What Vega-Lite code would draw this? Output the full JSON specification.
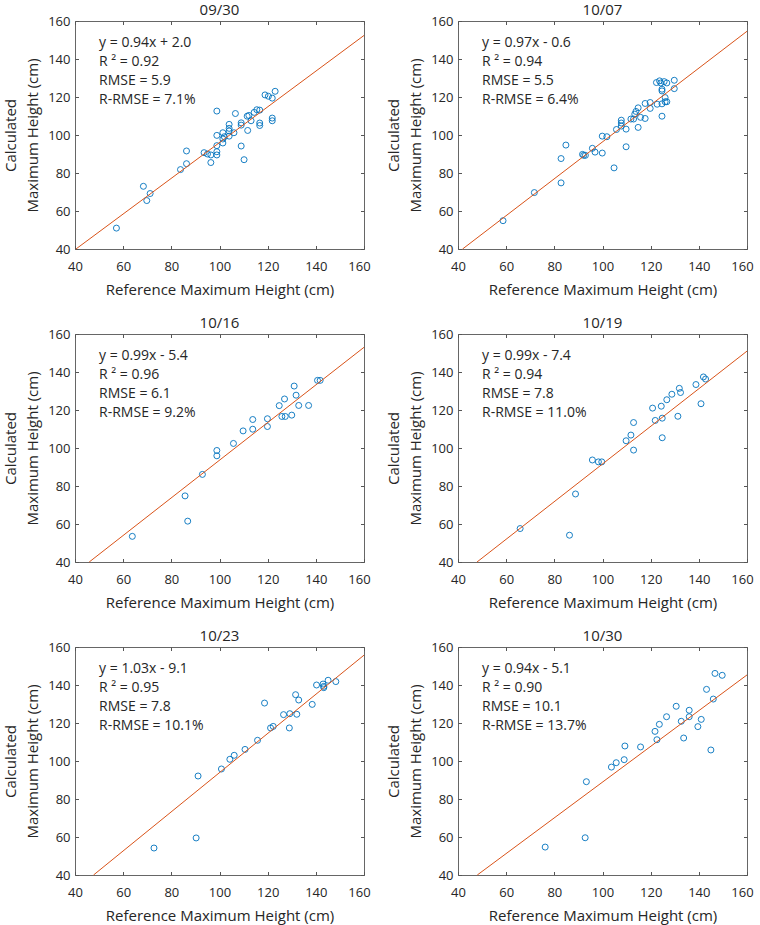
{
  "$schema": "https://vega.github.io/schema/vega-lite/v6.json",
  "background": "white",
  "padding": {"left": 3, "top": 2, "right": 5, "bottom": 5},
  "data": {"values": [
    {"d":"09/30","k":"p","x":57.2,"y":51.0},{"d":"09/30","k":"p","x":68.4,"y":73.0},{"d":"09/30","k":"p","x":69.8,"y":65.5},{"d":"09/30","k":"p","x":71.2,"y":69.2},{"d":"09/30","k":"p","x":83.8,"y":81.8},{"d":"09/30","k":"p","x":86.3,"y":84.9},{"d":"09/30","k":"p","x":86.3,"y":91.6},{"d":"09/30","k":"p","x":93.6,"y":90.7},{"d":"09/30","k":"p","x":95.0,"y":90.0},{"d":"09/30","k":"p","x":96.4,"y":85.5},{"d":"09/30","k":"p","x":96.4,"y":89.5},{"d":"09/30","k":"p","x":98.9,"y":89.5},{"d":"09/30","k":"p","x":98.9,"y":91.2},{"d":"09/30","k":"p","x":98.9,"y":94.4},{"d":"09/30","k":"p","x":98.9,"y":99.8},{"d":"09/30","k":"p","x":98.9,"y":112.6},{"d":"09/30","k":"p","x":101.4,"y":101.2},{"d":"09/30","k":"p","x":101.4,"y":97.9},{"d":"09/30","k":"p","x":101.4,"y":95.8},{"d":"09/30","k":"p","x":102.0,"y":99.1},{"d":"09/30","k":"p","x":104.0,"y":99.4},{"d":"09/30","k":"p","x":104.0,"y":105.6},{"d":"09/30","k":"p","x":104.0,"y":103.5},{"d":"09/30","k":"p","x":104.0,"y":102.1},{"d":"09/30","k":"p","x":106.0,"y":101.2},{"d":"09/30","k":"p","x":106.6,"y":111.3},{"d":"09/30","k":"p","x":109.0,"y":94.2},{"d":"09/30","k":"p","x":109.0,"y":106.4},{"d":"09/30","k":"p","x":109.0,"y":105.2},{"d":"09/30","k":"p","x":110.2,"y":87.0},{"d":"09/30","k":"p","x":111.5,"y":109.9},{"d":"09/30","k":"p","x":112.2,"y":110.3},{"d":"09/30","k":"p","x":111.7,"y":102.4},{"d":"09/30","k":"p","x":113.1,"y":107.5},{"d":"09/30","k":"p","x":114.4,"y":111.9},{"d":"09/30","k":"p","x":115.5,"y":113.3},{"d":"09/30","k":"p","x":116.7,"y":113.1},{"d":"09/30","k":"p","x":116.7,"y":106.3},{"d":"09/30","k":"p","x":116.7,"y":105.0},{"d":"09/30","k":"p","x":118.9,"y":121.1},{"d":"09/30","k":"p","x":120.3,"y":120.4},{"d":"09/30","k":"p","x":121.9,"y":119.4},{"d":"09/30","k":"p","x":121.9,"y":108.9},{"d":"09/30","k":"p","x":121.9,"y":107.5},{"d":"09/30","k":"p","x":123.1,"y":123.0},
    {"d":"09/30","k":"f","x":40.4,"y":40},{"d":"09/30","k":"f","x":160,"y":152.4},
    {"d":"09/30","k":"t","t":"y = 0.94x + 2.0\nR ² = 0.92\nRMSE = 5.9\nR-RMSE = 7.1%"},

    {"d":"10/07","k":"p","x":58.7,"y":54.9},{"d":"10/07","k":"p","x":71.7,"y":69.7},{"d":"10/07","k":"p","x":82.8,"y":87.6},{"d":"10/07","k":"p","x":82.8,"y":74.8},{"d":"10/07","k":"p","x":84.8,"y":94.7},{"d":"10/07","k":"p","x":91.7,"y":89.8},{"d":"10/07","k":"p","x":92.2,"y":89.3},{"d":"10/07","k":"p","x":92.9,"y":89.3},{"d":"10/07","k":"p","x":95.8,"y":93.0},{"d":"10/07","k":"p","x":96.9,"y":91.0},{"d":"10/07","k":"p","x":99.9,"y":99.4},{"d":"10/07","k":"p","x":99.9,"y":90.5},{"d":"10/07","k":"p","x":101.8,"y":99.1},{"d":"10/07","k":"p","x":104.8,"y":82.7},{"d":"10/07","k":"p","x":105.8,"y":102.9},{"d":"10/07","k":"p","x":107.8,"y":107.8},{"d":"10/07","k":"p","x":107.8,"y":106.3},{"d":"10/07","k":"p","x":107.8,"y":104.7},{"d":"10/07","k":"p","x":109.8,"y":103.1},{"d":"10/07","k":"p","x":109.8,"y":93.8},{"d":"10/07","k":"p","x":111.8,"y":108.4},{"d":"10/07","k":"p","x":112.9,"y":108.4},{"d":"10/07","k":"p","x":113.4,"y":111.0},{"d":"10/07","k":"p","x":113.9,"y":112.4},{"d":"10/07","k":"p","x":114.8,"y":114.3},{"d":"10/07","k":"p","x":114.8,"y":104.0},{"d":"10/07","k":"p","x":115.8,"y":109.3},{"d":"10/07","k":"p","x":117.7,"y":108.7},{"d":"10/07","k":"p","x":117.7,"y":116.6},{"d":"10/07","k":"p","x":119.8,"y":114.0},{"d":"10/07","k":"p","x":119.8,"y":117.1},{"d":"10/07","k":"p","x":122.4,"y":127.6},{"d":"10/07","k":"p","x":122.7,"y":116.2},{"d":"10/07","k":"p","x":123.7,"y":128.5},{"d":"10/07","k":"p","x":124.2,"y":127.4},{"d":"10/07","k":"p","x":124.7,"y":124.1},{"d":"10/07","k":"p","x":124.7,"y":123.2},{"d":"10/07","k":"p","x":124.7,"y":116.4},{"d":"10/07","k":"p","x":124.7,"y":109.9},{"d":"10/07","k":"p","x":125.6,"y":128.1},{"d":"10/07","k":"p","x":126.0,"y":117.5},{"d":"10/07","k":"p","x":126.0,"y":119.7},{"d":"10/07","k":"p","x":126.7,"y":127.4},{"d":"10/07","k":"p","x":126.7,"y":117.5},{"d":"10/07","k":"p","x":129.8,"y":128.8},{"d":"10/07","k":"p","x":129.8,"y":124.4},
    {"d":"10/07","k":"f","x":41.9,"y":40},{"d":"10/07","k":"f","x":160,"y":154.6},
    {"d":"10/07","k":"t","t":"y = 0.97x - 0.6\nR ² = 0.94\nRMSE = 5.5\nR-RMSE = 6.4%"},

    {"d":"10/16","k":"p","x":63.8,"y":53.5},{"d":"10/16","k":"p","x":85.7,"y":74.8},{"d":"10/16","k":"p","x":86.8,"y":61.5},{"d":"10/16","k":"p","x":92.9,"y":86.1},{"d":"10/16","k":"p","x":98.9,"y":98.7},{"d":"10/16","k":"p","x":98.9,"y":95.9},{"d":"10/16","k":"p","x":105.8,"y":102.4},{"d":"10/16","k":"p","x":109.8,"y":109.0},{"d":"10/16","k":"p","x":113.8,"y":115.0},{"d":"10/16","k":"p","x":113.8,"y":109.9},{"d":"10/16","k":"p","x":119.9,"y":115.4},{"d":"10/16","k":"p","x":119.9,"y":111.3},{"d":"10/16","k":"p","x":124.8,"y":122.3},{"d":"10/16","k":"p","x":125.9,"y":116.6},{"d":"10/16","k":"p","x":127.0,"y":125.8},{"d":"10/16","k":"p","x":127.3,"y":116.6},{"d":"10/16","k":"p","x":130.0,"y":117.3},{"d":"10/16","k":"p","x":131.0,"y":132.6},{"d":"10/16","k":"p","x":131.8,"y":127.8},{"d":"10/16","k":"p","x":132.9,"y":122.4},{"d":"10/16","k":"p","x":137.0,"y":122.4},{"d":"10/16","k":"p","x":140.7,"y":135.6},{"d":"10/16","k":"p","x":141.8,"y":135.6},
    {"d":"10/16","k":"f","x":45.9,"y":40},{"d":"10/16","k":"f","x":160,"y":153.0},
    {"d":"10/16","k":"t","t":"y = 0.99x - 5.4\nR ² = 0.96\nRMSE = 6.1\nR-RMSE = 9.2%"},

    {"d":"10/19","k":"p","x":65.8,"y":57.6},{"d":"10/19","k":"p","x":86.3,"y":54.1},{"d":"10/19","k":"p","x":88.8,"y":75.8},{"d":"10/19","k":"p","x":95.8,"y":93.7},{"d":"10/19","k":"p","x":98.3,"y":92.7},{"d":"10/19","k":"p","x":99.7,"y":92.7},{"d":"10/19","k":"p","x":109.8,"y":103.8},{"d":"10/19","k":"p","x":111.8,"y":106.8},{"d":"10/19","k":"p","x":112.9,"y":113.4},{"d":"10/19","k":"p","x":112.9,"y":98.9},{"d":"10/19","k":"p","x":120.8,"y":121.0},{"d":"10/19","k":"p","x":121.9,"y":114.5},{"d":"10/19","k":"p","x":124.4,"y":122.0},{"d":"10/19","k":"p","x":124.8,"y":115.7},{"d":"10/19","k":"p","x":124.8,"y":105.4},{"d":"10/19","k":"p","x":126.7,"y":125.4},{"d":"10/19","k":"p","x":128.8,"y":128.3},{"d":"10/19","k":"p","x":131.3,"y":116.7},{"d":"10/19","k":"p","x":131.9,"y":131.4},{"d":"10/19","k":"p","x":132.4,"y":129.2},{"d":"10/19","k":"p","x":138.8,"y":133.4},{"d":"10/19","k":"p","x":140.9,"y":123.3},{"d":"10/19","k":"p","x":141.9,"y":137.4},{"d":"10/19","k":"p","x":142.8,"y":136.3},
    {"d":"10/19","k":"f","x":47.9,"y":40},{"d":"10/19","k":"f","x":160,"y":151.0},
    {"d":"10/19","k":"t","t":"y = 0.99x - 7.4\nR ² = 0.94\nRMSE = 7.8\nR-RMSE = 11.0%"},

    {"d":"10/23","k":"p","x":72.8,"y":54.2},{"d":"10/23","k":"p","x":90.3,"y":59.5},{"d":"10/23","k":"p","x":91.1,"y":92.1},{"d":"10/23","k":"p","x":100.8,"y":95.8},{"d":"10/23","k":"p","x":104.3,"y":100.9},{"d":"10/23","k":"p","x":106.1,"y":103.0},{"d":"10/23","k":"p","x":110.6,"y":106.1},{"d":"10/23","k":"p","x":115.8,"y":110.9},{"d":"10/23","k":"p","x":118.7,"y":130.5},{"d":"10/23","k":"p","x":121.2,"y":117.4},{"d":"10/23","k":"p","x":122.3,"y":118.2},{"d":"10/23","k":"p","x":126.6,"y":124.4},{"d":"10/23","k":"p","x":129.0,"y":117.4},{"d":"10/23","k":"p","x":129.2,"y":124.9},{"d":"10/23","k":"p","x":131.6,"y":134.9},{"d":"10/23","k":"p","x":132.1,"y":124.6},{"d":"10/23","k":"p","x":132.9,"y":132.1},{"d":"10/23","k":"p","x":138.5,"y":129.8},{"d":"10/23","k":"p","x":140.3,"y":140.0},{"d":"10/23","k":"p","x":143.0,"y":140.5},{"d":"10/23","k":"p","x":143.3,"y":139.3},{"d":"10/23","k":"p","x":143.3,"y":138.6},{"d":"10/23","k":"p","x":145.1,"y":142.5},{"d":"10/23","k":"p","x":148.3,"y":141.8},
    {"d":"10/23","k":"f","x":47.7,"y":40},{"d":"10/23","k":"f","x":160,"y":155.7},
    {"d":"10/23","k":"t","t":"y = 1.03x - 9.1\nR ² = 0.95\nRMSE = 7.8\nR-RMSE = 10.1%"},

    {"d":"10/30","k":"p","x":76.2,"y":54.7},{"d":"10/30","k":"p","x":92.8,"y":59.6},{"d":"10/30","k":"p","x":93.3,"y":89.1},{"d":"10/30","k":"p","x":103.7,"y":96.8},{"d":"10/30","k":"p","x":105.7,"y":99.1},{"d":"10/30","k":"p","x":109.0,"y":100.7},{"d":"10/30","k":"p","x":109.3,"y":107.9},{"d":"10/30","k":"p","x":115.8,"y":107.4},{"d":"10/30","k":"p","x":121.8,"y":115.6},{"d":"10/30","k":"p","x":122.6,"y":111.2},{"d":"10/30","k":"p","x":123.6,"y":119.3},{"d":"10/30","k":"p","x":126.6,"y":123.3},{"d":"10/30","k":"p","x":130.6,"y":128.8},{"d":"10/30","k":"p","x":132.7,"y":120.9},{"d":"10/30","k":"p","x":133.7,"y":112.1},{"d":"10/30","k":"p","x":136.0,"y":126.7},{"d":"10/30","k":"p","x":136.0,"y":123.3},{"d":"10/30","k":"p","x":139.6,"y":118.1},{"d":"10/30","k":"p","x":141.0,"y":121.9},{"d":"10/30","k":"p","x":143.2,"y":137.7},{"d":"10/30","k":"p","x":145.0,"y":105.8},{"d":"10/30","k":"p","x":146.0,"y":132.6},{"d":"10/30","k":"p","x":146.7,"y":146.1},{"d":"10/30","k":"p","x":149.7,"y":145.1},
    {"d":"10/30","k":"f","x":48.0,"y":40},{"d":"10/30","k":"f","x":160,"y":145.3},
    {"d":"10/30","k":"t","t":"y = 0.94x - 5.1\nR ² = 0.90\nRMSE = 10.1\nR-RMSE = 13.7%"}
  ]},
  "facet": {"field": "d", "type": "nominal", "header": {"title": null, "labelFontSize": 15, "labelColor": "#262626", "labelPadding": -3}},
  "columns": 2,
  "spacing": {"row": 17, "column": 15},
  "resolve": {"axis": {"x": "independent", "y": "independent"}},
  "spec": {
    "width": 289,
    "height": 228,
    "resolve": {"axis": {"x": "independent", "y": "independent"}},
    "layer": [
      {"transform": [{"filter": "datum.k === 'p'"}],
       "mark": {"type": "point", "shape": "circle", "filled": false, "color": "#0072BD", "strokeWidth": 0.9, "size": 36, "opacity": 1},
       "encoding": {
         "x": {"field": "x", "type": "quantitative", "scale": {"domain": [40, 160], "nice": false},
               "axis": {"orient": "bottom", "title": "Reference Maximum Height (cm)", "values": [40, 60, 80, 100, 120, 140, 160],
                        "labelOffset": {"condition": {"test": "datum.value === 160", "value": -5}, "value": 0}}},
         "y": {"field": "y", "type": "quantitative", "scale": {"domain": [40, 160], "nice": false},
               "axis": {"orient": "left", "title": ["Calculated", "Maximum Height (cm)"], "values": [40, 60, 80, 100, 120, 140, 160]}}
       }},
      {"transform": [{"filter": "datum.k === 'f'"}],
       "mark": {"type": "line", "color": "#D95319", "strokeWidth": 1},
       "encoding": {
         "x": {"field": "x", "type": "quantitative", "scale": {"domain": [40, 160], "nice": false},
               "axis": {"orient": "top", "title": null, "labels": false, "values": [40, 60, 80, 100, 120, 140, 160]}},
         "y": {"field": "y", "type": "quantitative", "scale": {"domain": [40, 160], "nice": false},
               "axis": {"orient": "right", "title": null, "labels": false, "values": [40, 60, 80, 100, 120, 140, 160]}}
       }},
      {"transform": [{"filter": "datum.k === 't'"}],
       "mark": {"type": "text", "align": "left", "baseline": "alphabetic", "lineBreak": "\n", "fontSize": 14, "lineHeight": 19, "color": "#262626"},
       "encoding": {
         "x": {"datum": 50, "axis": null},
         "y": {"datum": 146.3, "axis": null},
         "text": {"field": "t"}
       }}
    ]
  },
  "config": {
    "font": "Open Sans",
    "view": {"stroke": "#666666", "strokeWidth": 1},
    "axis": {"grid": false, "domain": false, "tickColor": "#555555", "tickSize": -3.5, "labelFontSize": 13, "labelColor": "#262626", "titleFontSize": 15, "titleFontWeight": "normal", "titleColor": "#262626", "labelFlush": false},
    "axisX": {"labelPadding": 14.5, "titlePadding": 9},
    "axisY": {"labelPadding": 8.5, "titlePadding": 7, "titleLineHeight": 22}
  }
}
